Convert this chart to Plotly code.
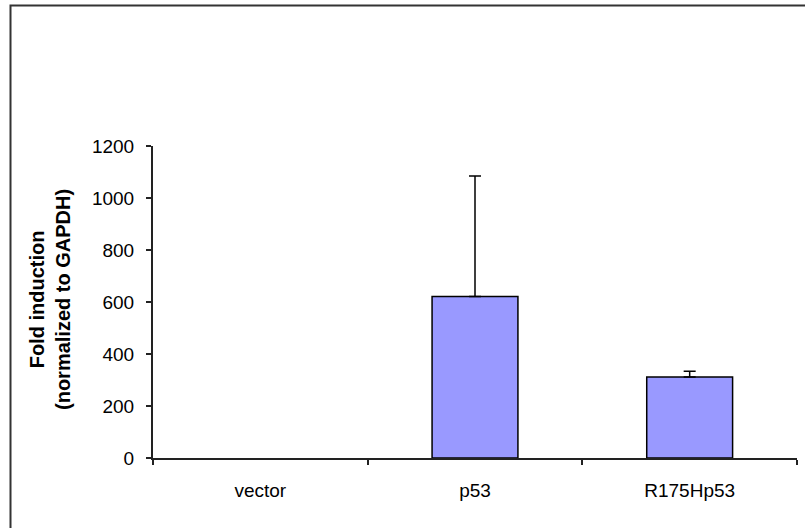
import plotly.graph_objects as go

categories = ["vector", "p53", "R175Hp53"]
values = [0, 621, 312]
err_plus = [0, 464, 22]
y_ticks = [0, 200, 400, 600, 800, 1000, 1200]

W, H = 805, 528
ml, mr, mt, mb = 153, 8, 146, 70
pw, ph = W - ml - mr, H - mt - mb

def px_x(x):
    return (x - ml) / pw

def px_y(y):
    return 1 - (y - mt) / ph

FAM = "Arial, Liberation Sans, sans-serif"
font = dict(family=FAM, size=19, color="black")

# only draw outlines/error bars where they are visible in the original
shown = [i for i, e in enumerate(err_plus) if e > 0]

fig = go.Figure()
fig.add_trace(go.Bar(
    x=categories, y=values,
    marker=dict(color="#9999FF",
                line=dict(color="black", width=[0 if i not in shown else 1.5
                                                for i in range(len(values))])),
    width=0.4,
))
fig.add_trace(go.Bar(
    x=[categories[i] for i in shown], y=[values[i] for i in shown],
    marker=dict(color="rgba(0,0,0,0)", line=dict(width=0)),
    error_y=dict(type="data", symmetric=False,
                 array=[err_plus[i] for i in shown],
                 arrayminus=[0 for _ in shown],
                 color="black", thickness=1.5, width=6),
    width=0.4, hoverinfo="skip",
))

fig.update_layout(
    width=W, height=H, barmode="overlay",
    margin=dict(l=ml, r=mr, t=mt, b=mb, autoexpand=False),
    paper_bgcolor="white", plot_bgcolor="white",
    showlegend=False, font=font,
    xaxis=dict(showline=True, linecolor="#222", linewidth=2,
               ticks="outside", ticklen=5, tickwidth=1.5, tickcolor="#222",
               tickson="boundaries", showgrid=False, zeroline=False,
               ticklabelstandoff=14, automargin=False,
               categoryorder="array", categoryarray=categories,
               range=[-0.5, 2.5]),
    yaxis=dict(range=[0, 1200], tickvals=y_ticks, showline=True,
               linecolor="#222", linewidth=2, ticks="outside", ticklen=5,
               tickwidth=1.5, tickcolor="#222", showgrid=False,
               zeroline=False, ticklabelstandoff=8, automargin=False),
    shapes=[dict(type="rect", xref="paper", yref="paper",
                 x0=px_x(10.5), x1=px_x(900), y0=px_y(900), y1=px_y(5.5),
                 line=dict(color="#333", width=2), fillcolor="rgba(0,0,0,0)")],
    annotations=[dict(text="<b>Fold induction<br>(normalized to GAPDH)</b>",
                      xref="paper", yref="paper", x=px_x(50), y=px_y(300),
                      xanchor="center", yanchor="middle", textangle=-90,
                      showarrow=False, font=dict(family=FAM, size=20, color="black"))],
)

fig.write_html("out.html", config={"displayModeBar": False},
               post_script="document.body.style.margin='0';")
